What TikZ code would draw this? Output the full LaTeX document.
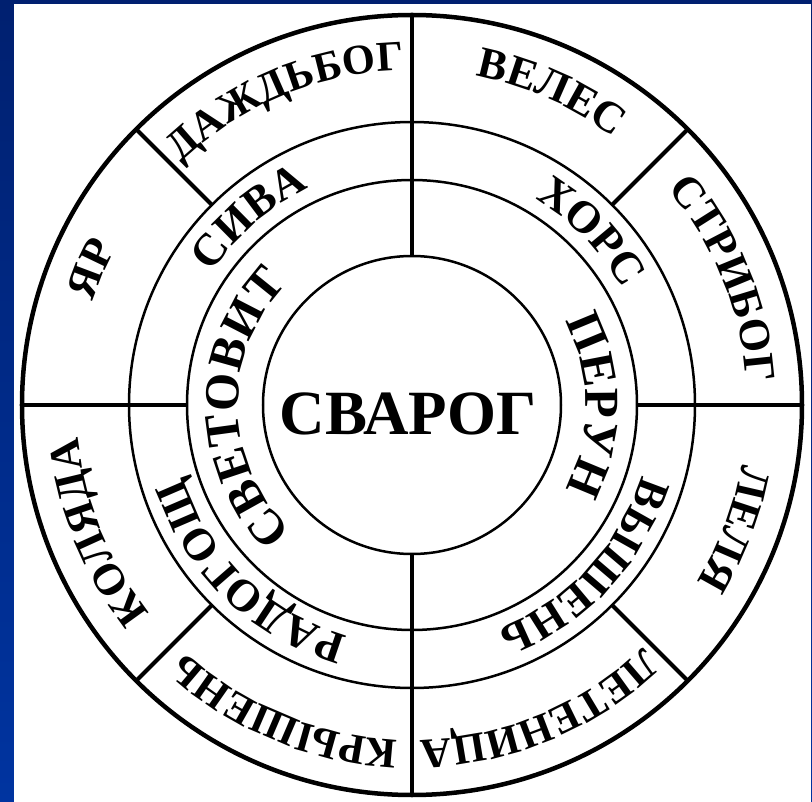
\documentclass[tikz,border=0pt]{standalone}
\usepackage{fontspec}
\setmainfont{Liberation Serif}
\usetikzlibrary{decorations.text}
\definecolor{slideblue}{RGB}{0,52,160}
\definecolor{slidenavy}{RGB}{0,32,112}
\newcommand{\outerfont}{\bfseries\fontsize{44bp}{44bp}\selectfont}
\newcommand{\longfont}{\bfseries\fontsize{42.5bp}{42.5bp}\selectfont}
\newcommand{\middlefont}{\bfseries\fontsize{45bp}{45bp}\selectfont}
\newcommand{\innerfont}{\bfseries\fontsize{49bp}{49bp}\selectfont}
\tikzset{
  rim/.style={line width=4.5bp},
  ring/.style={line width=2.5bp},
  spoke/.style={line width=4bp},
  arclabel/.style 2 args={decorate,
    decoration={text along path, text align=center, text={|#1|#2}}}
}
% text on an arc: font, middle angle, radius, text
\newcommand{\ringtext}[4]{\path[arclabel={#1}{#4}] ({#2+60}:#3) arc[start angle={#2+60}, end angle={#2-60}, radius=#3];}

\begin{document}
\begin{tikzpicture}[x=1bp, y=1bp]
\useasboundingbox (-412,-397) rectangle (400,405);
\shade[top color=slidenavy, bottom color=slideblue] (-412,-397) rectangle (400,405);
\fill[white] (-398,-397) rectangle (399,401);

% circles
\draw[rim] (0,0) circle[radius=390];
\draw[ring] (0,0) circle[radius=283];
\draw[ring] (0,0) circle[radius=225];
\draw[ring] (0,0) circle[radius=149];

% spokes
\foreach \a in {90,270} \draw[spoke] (\a:149) -- (\a:390);
\foreach \a in {0,180} \draw[spoke] (\a:225) -- (\a:390);
\foreach \a in {45,135,225,315} \draw[spoke] (\a:283) -- (\a:390);

\node[font=\bfseries\fontsize{63bp}{63bp}\selectfont] (svarog) at (-4,-9) {СВАРОГ};

% outer ring
\ringtext{\outerfont}{157}{335}{ЯР}
\ringtext{\longfont}{112.5}{335}{ДАЖДЬБОГ}
\ringtext{\outerfont}{66}{335}{ВЕЛЕС}
\ringtext{\outerfont}{22}{335}{СТРИБОГ}
\ringtext{\outerfont}{-21}{335}{ЛЕЛЯ}
\ringtext{\longfont}{-67.5}{335}{ЛЕТЕНИЦА}
\ringtext{\longfont}{-112.5}{335}{КРЫШЕНЬ}
\ringtext{\outerfont}{-158}{335}{КОЛЯДА}

% middle ring
\ringtext{\middlefont}{131}{240}{СИВА}
\ringtext{\middlefont}{44}{240}{ХОРС}
\ringtext{\middlefont}{-43}{240}{ВЫШЕНЬ}
\ringtext{\middlefont}{-134}{240}{РАДОГОЩ}

% inner ring
\ringtext{\innerfont}{181}{174}{СВЕТОВИТ}
\ringtext{\innerfont}{0}{174}{ПЕРУН}
\end{tikzpicture}
\end{document}
